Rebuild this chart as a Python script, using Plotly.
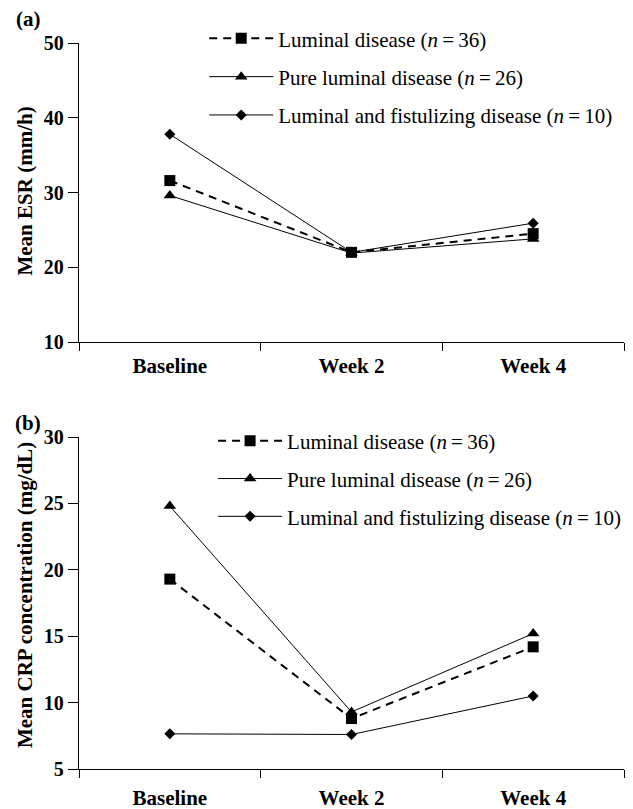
import plotly.graph_objects as go
from plotly.subplots import make_subplots

categories = ["Baseline", "Week 2", "Week 4"]
series_names = [
    "Luminal disease (<i>n</i>\u2009=\u200936)",
    "Pure luminal disease (<i>n</i>\u2009=\u200926)",
    "Luminal and fistulizing disease (<i>n</i>\u2009=\u200910)",
]
esr_luminal = [31.6, 22.0, 24.5]
esr_pure = [29.6, 21.9, 23.8]
esr_fistulizing = [37.8, 22.0, 25.9]
crp_luminal = [19.3, 8.8, 14.2]
crp_pure = [24.8, 9.3, 15.2]
crp_fistulizing = [7.65, 7.6, 10.5]

esr_ticks = [10, 20, 30, 40, 50]
crp_ticks = [5, 10, 15, 20, 25, 30]

FONT = "Liberation Serif, Times New Roman, serif"
styles = [
    dict(symbol="square", size=11, dash="8px,6px", width=2),
    dict(symbol="triangle-up", size=11, dash="solid", width=1),
    dict(symbol="diamond", size=8.5, dash="solid", width=1),
]

fig = make_subplots(rows=2, cols=1)

panel_data = [
    ([esr_luminal, esr_pure, esr_fistulizing], 1, "legend"),
    ([crp_luminal, crp_pure, crp_fistulizing], 2, "legend2"),
]
for data, row, leg in panel_data:
    for i, (vals, st) in enumerate(zip(data, styles)):
        fig.add_trace(
            go.Scatter(
                x=categories, y=vals, mode="lines+markers", name=series_names[i],
                line=dict(color="black", width=st["width"], dash=st["dash"]),
                marker=dict(symbol=st["symbol"], size=st["size"], color="black"),
                legend=leg, legendgroup=f"{leg}{i}",
            ),
            row=row, col=1,
        )

xcommon = dict(
    type="category", range=[-0.5, 2.5], tickson="boundaries", ticks="outside",
    ticklen=8, tickcolor="black", tickwidth=1.3, showline=True, linecolor="black",
    linewidth=1.3, showgrid=False, zeroline=False, automargin=False,
    tickfont=dict(family=FONT, size=21, color="black", weight="bold"),
)
ycommon = dict(
    ticks="outside", ticklen=10, tickcolor="black", tickwidth=1.3, showline=True,
    linecolor="black", linewidth=1.3, showgrid=False, zeroline=False, automargin=False,
    tickfont=dict(family=FONT, size=20, color="black", weight="bold"),
)
fig.update_layout(
    xaxis=dict(domain=[0, 1], anchor="y", ticklabelstandoff=5, **xcommon),
    xaxis2=dict(domain=[0, 1], anchor="y2", ticklabelstandoff=10, **xcommon),
    yaxis=dict(domain=[0.5871, 0.9567], range=[10, 50], tickvals=esr_ticks, anchor="x", **ycommon),
    yaxis2=dict(domain=[0.0593, 0.4697], range=[5, 30], tickvals=crp_ticks, anchor="x2", **ycommon),
)

legend_common = dict(
    xanchor="left", yanchor="top", bgcolor="rgba(0,0,0,0)", borderwidth=0,
    xref="container", yref="container",
    font=dict(family=FONT, size=21, color="black"), itemwidth=64,
)
fig.update_layout(
    legend=dict(x=0.310, y=0.9874, tracegroupgap=8, **legend_common),
    legend2=dict(x=0.324, y=0.490, tracegroupgap=7.5, **legend_common),
)

ytitle_font = dict(family=FONT, size=21, color="black", weight="bold")
fig.add_annotation(text="Mean ESR (mm/h)", xref="paper", yref="paper", x=-0.099,
                   y=0.7732, textangle=-90, showarrow=False,
                   font=ytitle_font, xanchor="center", yanchor="middle")
fig.add_annotation(text="Mean CRP concentration (mg/dL)", xref="paper", yref="paper",
                   x=-0.099, y=0.2744, textangle=-90, showarrow=False,
                   font=ytitle_font, xanchor="center", yanchor="middle")
fig.add_annotation(text="(a)", xref="paper", yref="paper", x=-0.120, y=0.9864,
                   xanchor="left", yanchor="middle", showarrow=False, font=ytitle_font)
fig.add_annotation(text="(b)", xref="paper", yref="paper", x=-0.121, y=0.4870,
                   xanchor="left", yanchor="middle", showarrow=False, font=ytitle_font)

fig.update_layout(
    width=633, height=809, margin=dict(l=71, r=17, t=0, b=0, autoexpand=False),
    paper_bgcolor="white", plot_bgcolor="white", showlegend=True,
    font=dict(family=FONT, color="black"),
)
fig.write_html("out.html")
